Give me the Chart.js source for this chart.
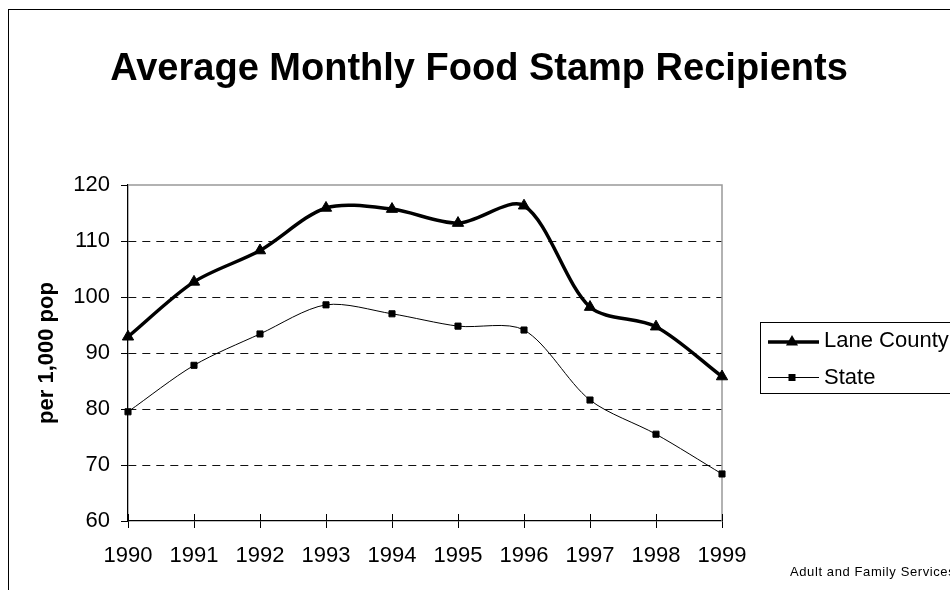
<!DOCTYPE html>
<html lang="en">
<head>
  <meta charset="UTF-8" />
  <title>Average Monthly Food Stamp Recipients</title>
  <style>
body {
    margin: 0;
    background: white;
    overflow: hidden;
}

.frame {
    position: absolute;
    left: 8px;
    top: 9px;
    width: 2000px;
    height: 2000px;
    border: 1.5px solid #000;
}

#foodChart {
    position: absolute;
    left: 0;
    top: 0;
}
  </style>
</head>
<body>

  <div class="frame"></div>
  <canvas id="foodChart" width="950" height="590"></canvas>

  <script src="https://cdn.jsdelivr.net/npm/chart.js"></script>

  <script>
    // chart data
    const years = ['1990', '1991', '1992', '1993', '1994', '1995', '1996', '1997', '1998', '1999'];
    const laneCounty = [92.9, 102.7, 108.3, 115.9, 115.7, 113.2, 116.3, 98.2, 94.7, 85.8];
    const state = [79.5, 87.8, 93.4, 98.6, 97.0, 94.8, 94.1, 81.6, 75.5, 68.4];
    const seriesNames = ['Lane County', 'State'];
    const yTicks = { min: 60, max: 120, step: 10 };

    const FONT = "'Liberation Sans', Arial, sans-serif";

    function drawTriangle(ctx, x, y, r) {
      ctx.beginPath();
      for (let i = 0; i < 3; i++) {
        const a = i * 2 * Math.PI / 3;
        const px = x + Math.sin(a) * r;
        const py = y - Math.cos(a) * r;
        if (i === 0) ctx.moveTo(px, py); else ctx.lineTo(px, py);
      }
      ctx.closePath();
      ctx.fill();
    }

    // title, plot frame, legend and footer
    const decorations = {
      id: 'decorations',
      beforeDatasetsDraw(chart) {
        const ctx = chart.ctx;
        const area = chart.chartArea;
        ctx.save();
        ctx.strokeStyle = '#999';
        ctx.lineWidth = 1.5;
        ctx.beginPath();
        ctx.moveTo(area.left, area.top);
        ctx.lineTo(area.right, area.top);
        ctx.lineTo(area.right, area.bottom);
        ctx.stroke();

        // x tick marks cross the axis, so draw the inner half too
        const xs = chart.scales.x;
        ctx.strokeStyle = '#000';
        ctx.lineWidth = 1;
        ctx.beginPath();
        xs.ticks.forEach((t, i) => {
          const px = Math.round(xs.getPixelForTick(i)) + 0.5;
          ctx.moveTo(px, area.bottom - 7);
          ctx.lineTo(px, area.bottom);
        });
        ctx.stroke();
        ctx.restore();
      },
      afterDraw(chart) {
        const ctx = chart.ctx;
        ctx.save();
        ctx.fillStyle = '#000';

        ctx.font = 'bold 38px ' + FONT;
        ctx.textAlign = 'center';
        ctx.textBaseline = 'alphabetic';
        ctx.fillText('Average Monthly Food Stamp Recipients', 479, 80);

        // legend
        ctx.strokeStyle = '#000';
        ctx.lineWidth = 1;
        ctx.strokeRect(760.5, 322.5, 300, 71);

        ctx.lineWidth = 3.5;
        ctx.beginPath();
        ctx.moveTo(768, 342);
        ctx.lineTo(819, 342);
        ctx.stroke();
        drawTriangle(ctx, 792, 342, 7);

        ctx.lineWidth = 1;
        ctx.beginPath();
        ctx.moveTo(768, 377.5);
        ctx.lineTo(819, 377.5);
        ctx.stroke();
        ctx.fillRect(788.5, 374, 7, 7);

        ctx.font = '22px ' + FONT;
        ctx.textAlign = 'left';
        ctx.fillText(seriesNames[0], 824, 347);
        ctx.fillText(seriesNames[1], 824, 384);

        ctx.font = '13px ' + FONT;
        ctx.letterSpacing = '0.6px';
        ctx.fillText('Adult and Family Services', 790, 576);
        ctx.restore();
      }
    };

    const isEdge = v => v === yTicks.min || v === yTicks.max;

    new Chart(document.getElementById('foodChart'), {
      type: 'line',
      data: {
        labels: years,
        datasets: [{
          label: seriesNames[0],
          data: laneCounty,
          borderColor: '#000',
          backgroundColor: '#000',
          borderWidth: 3.5,
          tension: 0.3,
          pointStyle: 'triangle',
          pointRadius: 6.5,
          pointBorderWidth: 1,
          pointBackgroundColor: '#000',
          pointBorderColor: '#000'
        }, {
          label: seriesNames[1],
          data: state,
          borderColor: '#000',
          backgroundColor: '#000',
          borderWidth: 1,
          tension: 0.3,
          pointStyle: 'rect',
          pointRadius: 4.3,
          pointBorderWidth: 1,
          pointBackgroundColor: '#000',
          pointBorderColor: '#000'
        }]
      },
      options: {
        responsive: false,
        animation: false,
        events: [],
        layout: { padding: { top: 185, right: 228, bottom: 0, left: 0 } },
        plugins: {
          legend: { display: false },
          tooltip: { enabled: false },
          title: { display: false }
        },
        scales: {
          x: {
            offset: false,
            afterFit(scale) { scale.height = 69; },
            grid: {
              drawOnChartArea: false,
              tickLength: 7,
              tickColor: '#000',
              tickWidth: 1
            },
            border: { color: '#000', width: 1.3 },
            ticks: {
              color: '#000',
              padding: 15,
              maxRotation: 0,
              font: { family: FONT, size: 22 }
            }
          },
          y: {
            min: yTicks.min,
            max: yTicks.max,
            afterFit(scale) { scale.width = 128; },
            grid: {
              color: ctx => (ctx.tick && isEdge(ctx.tick.value)) ? 'rgba(0,0,0,0)' : '#111',
              lineWidth: 1,
              tickLength: 7,
              tickColor: '#000',
              tickWidth: 1,
              tickBorderDash: []
            },
            border: { color: '#000', width: 1.3, dash: [8, 6] },
            ticks: {
              stepSize: yTicks.step,
              color: '#000',
              padding: 11,
              font: { family: FONT, size: 22 }
            },
            title: {
              display: true,
              text: 'per 1,000 pop',
              color: '#000',
              padding: { top: 34, bottom: 0 },
              font: { family: FONT, size: 22, weight: 'bold' }
            }
          }
        }
      },
      plugins: [decorations]
    });
  </script>
</body>
</html>
